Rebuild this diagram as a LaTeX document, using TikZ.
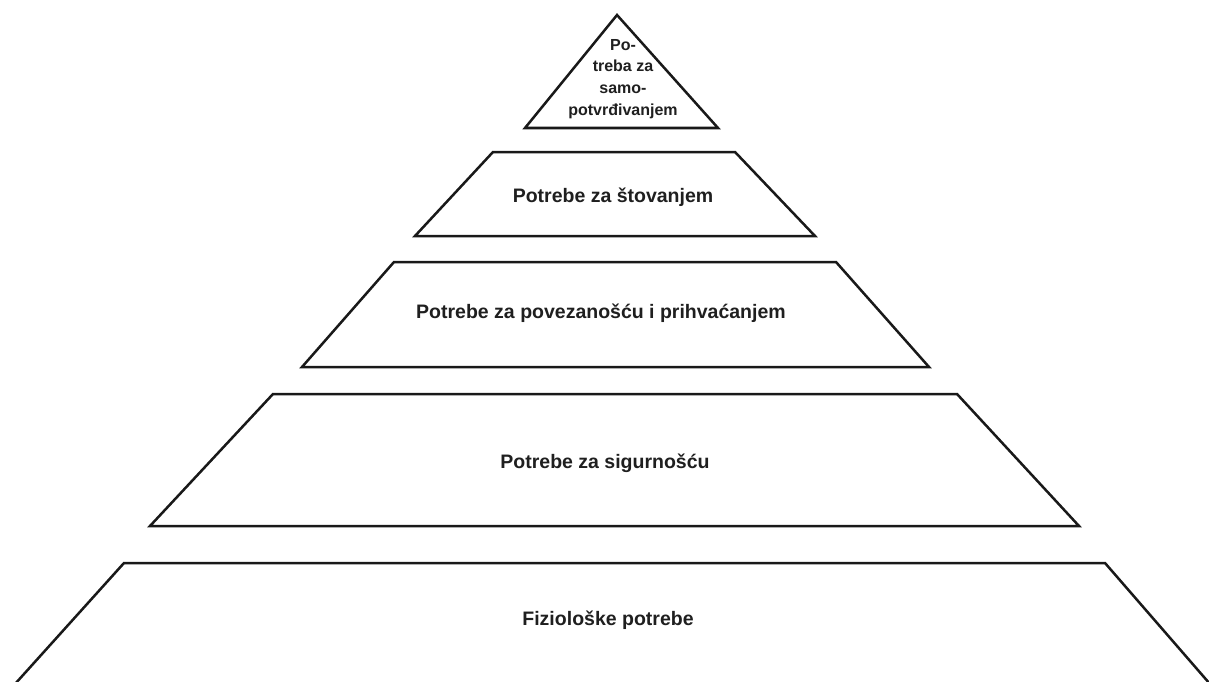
\documentclass[tikz,border=0pt]{standalone}
\usepackage{fontspec}
\setmainfont{Liberation Sans}
\begin{document}
\begin{tikzpicture}[x=1pt,y=-1pt,
  level/.style={draw=black!90,line width=2.5pt,line join=miter,fill=white},
  lbl/.style={font=\bfseries\fontsize{19.5}{24}\selectfont,text=black!88,inner sep=0pt,anchor=base},
  toplbl/.style={font=\bfseries\fontsize{16}{21.7}\selectfont,text=black!88,align=center,inner sep=0pt}]
\useasboundingbox (0,0) rectangle (1209,682);
\fill[white] (0,0) rectangle (1209,682);
% level 1 (apex)
\draw[level] (617,15) -- (718,128) -- (525,128) -- cycle;
\node[toplbl] (l1) at (623,79) {Po-\\treba za\\samo-\\potvrđivanjem};
% level 2
\draw[level] (493,152) -- (735,152) -- (815,236) -- (415,236) -- cycle;
\node[lbl] (l2) at (613,202) {Potrebe za štovanjem};
% level 3
\draw[level] (394,262) -- (836,262) -- (929,367) -- (302,367) -- cycle;
\node[lbl] (l3) at (601,318) {Potrebe za povezanošću i prihvaćanjem};
% level 4
\draw[level] (273,394) -- (957,394) -- (1079,526) -- (150,526) -- cycle;
\node[lbl] (l4) at (605,468) {Potrebe za sigurnošću};
% level 5
\draw[level] (15,684) -- (124,563) -- (1105,563) -- (1210,684);
\node[lbl] (l5) at (608,625) {Fiziološke potrebe};
\end{tikzpicture}
\end{document}
